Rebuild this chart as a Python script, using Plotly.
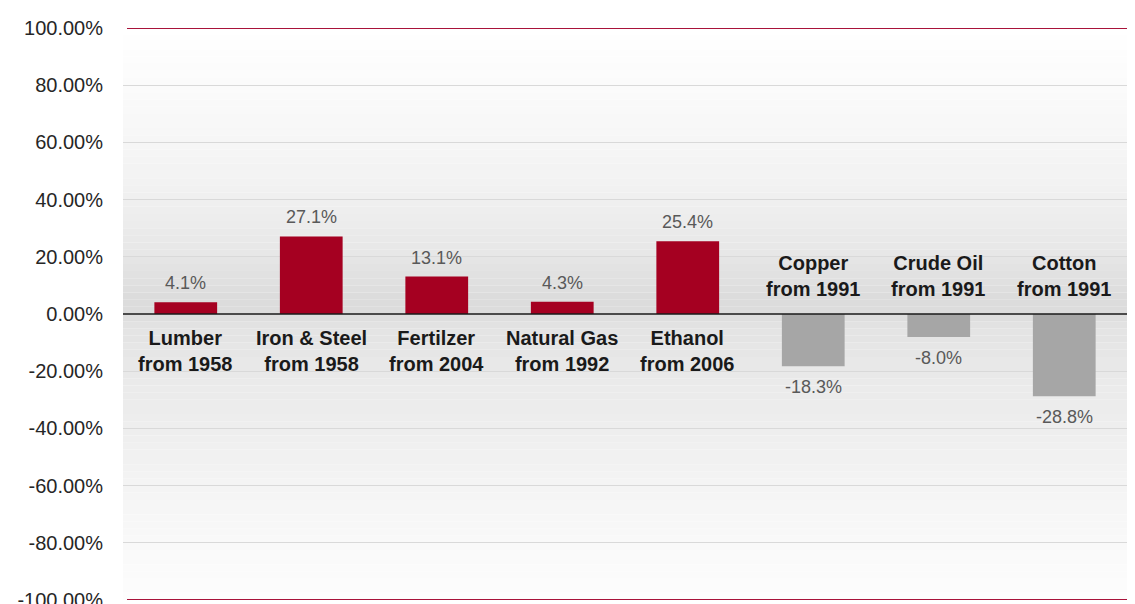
import plotly.graph_objects as go

categories = ["Lumber<br>from 1958", "Iron & Steel<br>from 1958", "Fertilzer<br>from 2004",
              "Natural Gas<br>from 1992", "Ethanol<br>from 2006", "Copper<br>from 1991",
              "Crude Oil<br>from 1991", "Cotton<br>from 1991"]
values = [4.1, 27.1, 13.1, 4.3, 25.4, -18.3, -8.0, -28.8]
value_labels = ["4.1%", "27.1%", "13.1%", "4.3%", "25.4%", "-18.3%", "-8.0%", "-28.8%"]
tick_vals = [100, 80, 60, 40, 20, 0, -20, -40, -60, -80, -100]
tick_text = ["100.00%", "80.00%", "60.00%", "40.00%", "20.00%", "0.00%", "-20.00%",
             "-40.00%", "-60.00%", "-80.00%", "-100.00%"]

RED = "#A50021"
GREY_BAR = "#A6A6A6"
FONT = "Liberation Sans, Arial, sans-serif"

colors = [RED if v >= 0 else GREY_BAR for v in values]

fig = go.Figure()
fig.add_trace(go.Bar(x=categories, y=values, marker=dict(color=colors, line=dict(width=0)),
                     width=0.5, hoverinfo="skip"))

# background vertical gradient (style only)
stops = [(100, 255), (80, 251), (60, 246), (40, 240), (20, 230), (5, 219), (0, 221),
         (-5, 227), (-20, 233), (-40, 238), (-60, 244), (-80, 249), (-100, 253)]
def grey_at(y):
    for (y0, g0), (y1, g1) in zip(stops[:-1], stops[1:]):
        if y1 <= y <= y0:
            t = (y0 - y) / (y0 - y1)
            return round(g0 + (g1 - g0) * t)
    return 255
shapes = []
step = 2.5
y = 100.0
while y > -100:
    g = grey_at(y - step / 2)
    shapes.append(dict(type="rect", xref="paper", yref="y", x0=0, x1=1, y0=y - step, y1=y,
                       fillcolor=f"rgb({g},{g},{g})", line=dict(width=0), layer="below"))
    y -= step
# red border lines
for yy in (100, -100):
    shapes.append(dict(type="line", xref="paper", yref="y", x0=0.004, x1=1, y0=yy, y1=yy,
                       line=dict(color="#A8133A", width=2), layer="above"))
# zero line
shapes.append(dict(type="line", xref="paper", yref="y", x0=0, x1=1, y0=0, y1=0,
                   line=dict(color="#1a1a1a", width=1.5), layer="above"))

annotations = []
for c, v, lab in zip(categories, values, value_labels):
    pos = v >= 0
    annotations.append(dict(x=c, y=v, text=lab, showarrow=False,
                            yanchor="bottom" if pos else "top", yshift=7 if pos else -9,
                            font=dict(family=FONT, size=18, color="#595959")))
    annotations.append(dict(x=c, y=0, text=f"<b>{c}</b>", showarrow=False,
                            yanchor="top" if pos else "bottom", yshift=-11 if pos else 12,
                            font=dict(family=FONT, size=20, color="#1a1a1a")))

fig.update_layout(
    width=1119, height=596,
    margin=dict(l=115, r=0, t=20, b=4, autoexpand=False),
    paper_bgcolor="white", plot_bgcolor="white",
    showlegend=False, bargap=0.5,
    shapes=shapes, annotations=annotations,
    xaxis=dict(showticklabels=False, showgrid=False, zeroline=False, showline=False,
               automargin=False),
    yaxis=dict(range=[-100, 100], tickmode="array", tickvals=tick_vals, ticktext=tick_text,
               showgrid=True, gridcolor="#D9D9D9", gridwidth=1, zeroline=False,
               ticklabelstandoff=19, ticklabeloverflow="allow", automargin=False,
               tickfont=dict(family=FONT, size=20, color="#262626")),
)

fig.write_html("out.html")
